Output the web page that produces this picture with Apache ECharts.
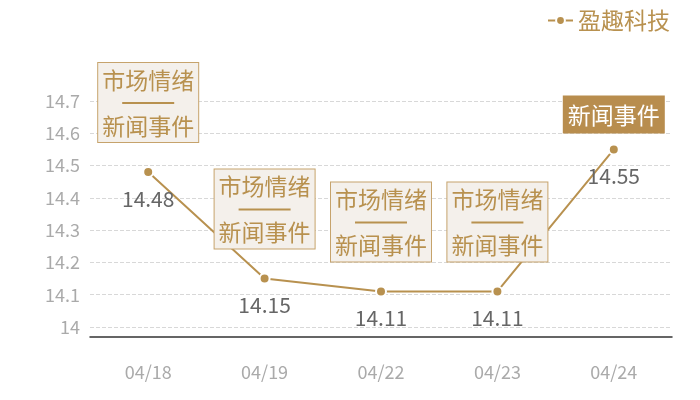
<!DOCTYPE html>
<html>
<head>
<meta charset="utf-8">
<script src="https://cdn.jsdelivr.net/npm/echarts@6/dist/echarts.min.js"></script>
<style>html,body{margin:0;padding:0;background:#fff}#c{width:700px;height:400px}</style>
</head>
<body>
<div id="c"></div>
<script>
var categories = ['04/18', '04/19', '04/22', '04/23', '04/24'];
var values = [14.48, 14.15, 14.11, 14.11, 14.55];
var yTicks = ['14', '14.1', '14.2', '14.3', '14.4', '14.5', '14.6', '14.7'];
var seriesName = '盈趣科技';
var noteTop = ['市场情绪', '市场情绪', '市场情绪', '市场情绪', ''];
var noteBottom = ['新闻事件', '新闻事件', '新闻事件', '新闻事件', '新闻事件'];
var noteKinds = ['box', 'box', 'box', 'box', 'solid'];

var gold = '#b8914f';
var font = '"Noto Sans CJK SC", "Noto Sans", sans-serif';

function noteText(i) {
  if (noteTop[i]) return '{t|' + noteTop[i] + '}\n{d| }\n{t|' + noteBottom[i] + '}';
  return '{t|' + noteBottom[i] + '}';
}

var chart = echarts.init(document.getElementById('c'));
chart.setOption({
  animation: false,
  textStyle: { fontFamily: font },
  legend: {
    data: [seriesName],
    right: 25, top: 4,
    itemWidth: 25, itemHeight: 11,
    itemGap: 6,
    textStyle: { color: gold, fontSize: 23, fontFamily: font }
  },
  grid: { left: 90, right: 28, top: 101, bottom: 73 },
  xAxis: {
    type: 'category',
    data: categories,
    offset: 10,
    axisLine: { lineStyle: { color: '#333', width: 1.5 } },
    axisTick: { show: false },
    axisLabel: { color: '#aaa', fontSize: 18, margin: 26, fontFamily: font }
  },
  yAxis: {
    type: 'value',
    min: 14, max: 14.7, interval: 0.1,
    axisLine: { show: false },
    axisTick: { show: false },
    axisLabel: {
      color: '#aaa', fontSize: 18, margin: 10, fontFamily: font,
      formatter: function (v) { var i = Math.round((v - 14) * 10); return yTicks[i] !== undefined ? yTicks[i] : v; }
    },
    splitLine: { lineStyle: { type: 'dashed', color: '#d8d8d8' } }
  },
  series: [{
    name: seriesName,
    type: 'line',
    data: values,
    symbol: 'circle',
    symbolSize: 10,
    lineStyle: { color: gold, width: 2 },
    itemStyle: { color: gold, borderColor: '#fff', borderWidth: 2 },
    label: {
      show: true, position: 'bottom', distance: 10,
      color: '#666', fontSize: 21, fontFamily: font
    },
    markPoint: {
      symbol: 'circle',
      symbolSize: 0,
      silent: true,
      data: values.map(function (v, i) {
        var solid = noteKinds[i] === 'solid';
        var c = solid ? '#fff' : gold;
        return {
          coord: [categories[i], v],
          value: v,
          label: {
            show: true,
            position: 'top',
            distance: solid ? 17 : 30,
            formatter: noteText(i),
            align: 'center',
            backgroundColor: solid ? '#b88d4e' : '#f4f0eb',
            borderColor: solid ? '#b88d4e' : '#c6a36c',
            borderWidth: 1,
            padding: solid ? [7, 4, 5, 4] : [5, 4, 4, 4],
            rich: {
              t: { fontSize: 23, lineHeight: 24, color: c, fontFamily: font, align: 'center' },
              d: { fontSize: 2, width: 52, height: 2, lineHeight: 22, backgroundColor: c, align: 'center' }
            }
          }
        };
      })
    }
  }]
});
</script>
</body>
</html>
